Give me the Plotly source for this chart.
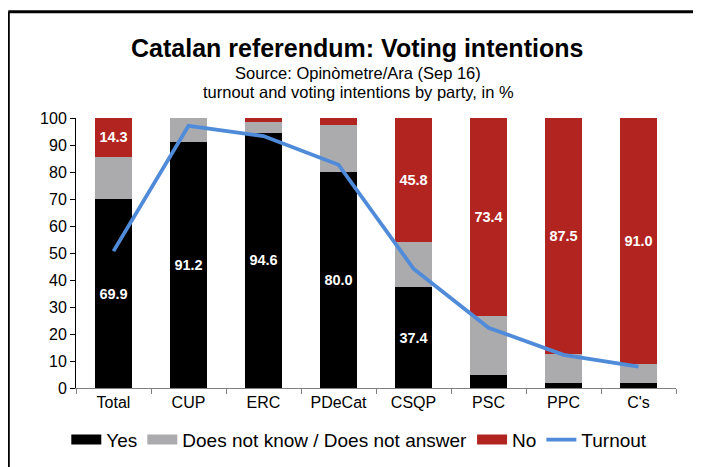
import plotly.graph_objects as go

parties = ["Total", "CUP", "ERC", "PDeCat", "CSQP", "PSC", "PPC", "C's"]
yes = [69.9, 91.2, 94.6, 80.0, 37.4, 5.0, 1.9, 1.8]
dk = [15.8, 8.8, 3.9, 17.5, 16.8, 21.6, 10.6, 7.2]
no = [14.3, 0.0, 1.5, 2.5, 45.8, 73.4, 87.5, 91.0]
turnout = [50.7, 97.1, 93.3, 82.7, 44.2, 22.3, 12.3, 7.9]
yes_labels = ["69.9", "91.2", "94.6", "80.0", "37.4", "", "", ""]
no_labels = ["14.3", "", "", "", "45.8", "73.4", "87.5", "91.0"]

FONT = "Liberation Sans, Arial, sans-serif"
BLACK = "#000000"
GREY = "#ABABAE"
RED = "#B2241F"
BLUE = "#4F8BD9"

fig = go.Figure()
fig.add_trace(go.Bar(x=parties, y=yes, name="Yes", marker_color=BLACK, showlegend=False,
                     text=yes_labels, textposition="inside", insidetextanchor="middle",
                     constraintext="none",
                     textfont=dict(color="white", size=14.5, family=FONT, weight="bold")))
fig.add_trace(go.Bar(x=parties, y=dk, name="Does not know / Does not answer", marker_color=GREY,
                     showlegend=False, textposition="none"))
fig.add_trace(go.Bar(x=parties, y=no, name="No", marker_color=RED, showlegend=False,
                     text=no_labels, textposition="inside", insidetextanchor="middle",
                     constraintext="none",
                     textfont=dict(color="white", size=14.5, family=FONT, weight="bold")))
fig.add_trace(go.Scatter(x=parties, y=turnout, name="Turnout", mode="lines", showlegend=False,
                         line=dict(color=BLUE, width=3.8)))

# legend entries: wide rectangular swatches like the original
for nm, col, w in [("Yes", BLACK, 10), ("Does not know / Does not answer", GREY, 10),
                   ("No", RED, 10), ("Turnout", BLUE, 3.8)]:
    fig.add_trace(go.Scatter(x=[None], y=[None], mode="lines", name=nm,
                             line=dict(color=col, width=w), showlegend=True))

fig.update_traces(marker_line_width=0, selector=dict(type="bar"))

# page has an 8px body margin: figure coords = screen coords - 8
OFF = 8
W, H = 701, 467
L = 75.7 - OFF
T = 118.3 - OFF
R = W - (675.7 - OFF)
B = H - (388.3 - OFF)
PW = W - L - R
PH = H - T - B

def px_x(p):
    return (p - OFF - L) / PW

def px_y(p):
    return (H - B - (p - OFF)) / PH

fig.update_layout(
    width=W, height=H,
    margin=dict(l=L, r=R, t=T, b=B, pad=0),
    barmode="stack", bargap=0.5,
    plot_bgcolor="white", paper_bgcolor="white",
    font=dict(family=FONT, size=16, color="#000000"),
    showlegend=True,
    legend=dict(orientation="h", x=px_x(359), xanchor="center", y=px_y(440), yanchor="middle",
                font=dict(size=19, family=FONT), traceorder="normal",
                itemwidth=30, tracegroupgap=0, bgcolor="rgba(0,0,0,0)"),
    xaxis=dict(showline=True, linecolor="#808080", linewidth=1, ticks="outside",
               tickson="boundaries", ticklen=5, tickcolor="#808080",
               tickfont=dict(size=16, family=FONT), showgrid=False, fixedrange=True),
    yaxis=dict(range=[0, 100], dtick=10, showline=True, linecolor="#000000", linewidth=1,
               ticks="outside", ticklen=5, tickcolor="#000000",
               tickfont=dict(size=16, family=FONT), showgrid=False, zeroline=False,
               fixedrange=True),
)

fig.add_annotation(text="<b>Catalan referendum: Voting intentions</b>", xref="paper", yref="paper",
                   x=px_x(357), y=px_y(48), xanchor="center", yanchor="middle",
                   showarrow=False, font=dict(size=25, family=FONT, color="black"))
fig.add_annotation(text="Source: Opinòmetre/Ara (Sep 16)", xref="paper", yref="paper",
                   x=px_x(358), y=px_y(73), xanchor="center", yanchor="middle",
                   showarrow=False, font=dict(size=16.5, family=FONT, color="black"))
fig.add_annotation(text="turnout and voting intentions by party, in %", xref="paper", yref="paper",
                   x=px_x(358), y=px_y(92), xanchor="center", yanchor="middle",
                   showarrow=False, font=dict(size=16.5, family=FONT, color="black"))

# outer frame (top and left edges run off the visible page)
fig.add_shape(type="line", xref="paper", yref="paper",
              x0=px_x(8), x1=px_x(706), y0=px_y(12), y1=px_y(12),
              line=dict(color="black", width=3), layer="above")
fig.add_shape(type="line", xref="paper", yref="paper",
              x0=px_x(8), x1=px_x(8), y0=px_y(12), y1=px_y(472),
              line=dict(color="black", width=3), layer="above")

fig.write_html("out.html", config={"displayModeBar": False})
